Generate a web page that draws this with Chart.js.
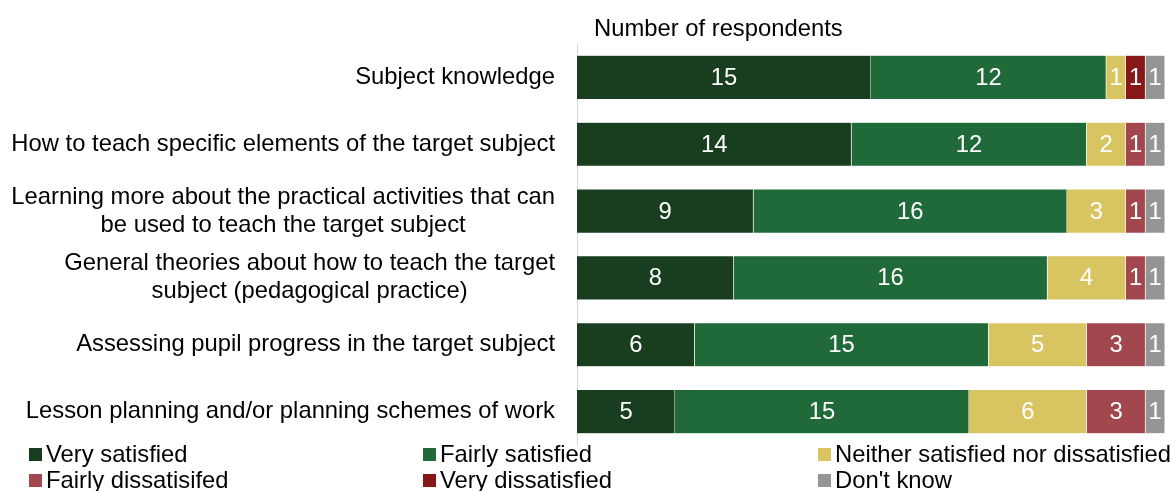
<!DOCTYPE html>
<html>
<head>
<meta charset="utf-8">
<script src="https://cdn.jsdelivr.net/npm/chart.js@4/dist/chart.umd.min.js"></script>
<style>
  body { margin: 0; background: #fff; }
  #wrap { position: relative; width: 1175px; height: 491px; }
  #legend { position: absolute; left: 0; top: 440px; width: 1175px; font-family: "Liberation Sans", Arial, sans-serif; font-size: 23.8px; color: #000; }
  .item { position: absolute; display: flex; align-items: center; white-space: nowrap; line-height: 28px; }
  .box { width: 13px; height: 13px; margin-right: 4px; }
</style>
</head>
<body>
<div id="wrap">
  <canvas id="chart" width="1175" height="491"></canvas>
  <div id="legend"></div>
</div>
<script>
// Categories (top to bottom)
const categories = [
    'Subject knowledge',
    'How to teach specific elements of the target subject',
    ['Learning more about the practical activities that can', 'be used to teach the target subject'],
    ['General theories about how to teach the target', 'subject (pedagogical practice)'],
    'Assessing pupil progress in the target subject',
    'Lesson planning and/or planning schemes of work'
];

// Series values, one per category
const verySatisfied = [15, 14, 9, 8, 6, 5];
const fairlySatisfied = [12, 12, 16, 16, 15, 15];
const neither = [1, 2, 3, 4, 5, 6];
const fairlyDissatisfied = [0, 1, 1, 1, 3, 3];
const veryDissatisfied = [1, 0, 0, 0, 0, 0];
const dontKnow = [1, 1, 1, 1, 1, 1];

const seriesNames = ['Very satisfied', 'Fairly satisfied', 'Neither satisfied nor dissatisfied', 'Fairly dissatisifed', 'Very dissatisfied', "Don't know"];
const seriesColors = ['#183d1f', '#1f6a38', '#d9c462', '#a2474d', '#861818', '#959595'];
const seriesData = [verySatisfied, fairlySatisfied, neither, fairlyDissatisfied, veryDissatisfied, dontKnow];

const FONT = '"Liberation Sans", Arial, sans-serif';
const FONT_SIZE = 23.8;
const LINE_H = 28;

// Draw the value inside each bar segment, category labels and the axis title
const barLabels = {
    id: 'barLabels',
    afterDatasetsDraw(chart) {
        const ctx = chart.ctx;
        ctx.save();
        ctx.font = FONT_SIZE + 'px ' + FONT;
        ctx.textBaseline = 'middle';

        ctx.fillStyle = '#ffffff';
        ctx.textAlign = 'center';
        chart.data.datasets.forEach((ds, i) => {
            chart.getDatasetMeta(i).data.forEach((bar, j) => {
                const v = ds.data[j];
                if (!v) return;
                ctx.fillText(String(v), (bar.x + bar.base) / 2, bar.y + 1);
            });
        });

        // category labels: block right-aligned, lines centred within the block
        ctx.fillStyle = '#000000';
        const yScale = chart.scales.y;
        const right = chart.chartArea.left - 22;
        chart.data.labels.forEach((label, i) => {
            const lines = Array.isArray(label) ? label : [label];
            const w = Math.max(...lines.map(l => ctx.measureText(l).width));
            const cx = right - w / 2;
            const cy = yScale.getPixelForTick(i);
            lines.forEach((l, k) => {
                ctx.fillText(l, cx, cy + (k - (lines.length - 1) / 2) * LINE_H);
            });
        });

        // axis title above the plot
        ctx.textAlign = 'left';
        ctx.fillText('Number of respondents', chart.chartArea.left + 17, 29);
        ctx.restore();
    }
};

const ctx = document.getElementById('chart').getContext('2d');
const chart = new Chart(ctx, {
    type: 'bar',
    data: {
        labels: categories,
        datasets: seriesNames.map((name, i) => ({
            label: name,
            data: seriesData[i],
            backgroundColor: seriesColors[i],
            borderColor: 'rgba(255,255,255,0.6)',
            borderWidth: 0.5,
            barPercentage: 0.66,
            categoryPercentage: 1.0
        }))
    },
    options: {
        indexAxis: 'y',
        responsive: false,
        animation: false,
        layout: { padding: { top: 44, bottom: 46, right: 10, left: 0 } },
        scales: {
            x: {
                stacked: true,
                display: false,
                min: 0,
                max: 30
            },
            y: {
                stacked: true,
                grid: { display: false, drawTicks: false },
                border: { display: true, color: '#d9d9d9', width: 1 },
                ticks: { display: false },
                afterFit(scale) { scale.width = 577; }
            }
        },
        plugins: {
            legend: { display: false },
            tooltip: { enabled: false }
        }
    },
    plugins: [barLabels]
});

// Legend in three columns, two rows
const legendEl = document.getElementById('legend');
const colX = [29, 423, 818];
const rowY = [0, 26];
seriesNames.forEach((name, i) => {
    const item = document.createElement('div');
    item.className = 'item';
    item.style.left = colX[i % 3] + 'px';
    item.style.top = rowY[Math.floor(i / 3)] + 'px';
    item.innerHTML = '<span class="box" style="background:' + seriesColors[i] + '"></span><span>' + name + '</span>';
    legendEl.appendChild(item);
});
</script>
</body>
</html>
